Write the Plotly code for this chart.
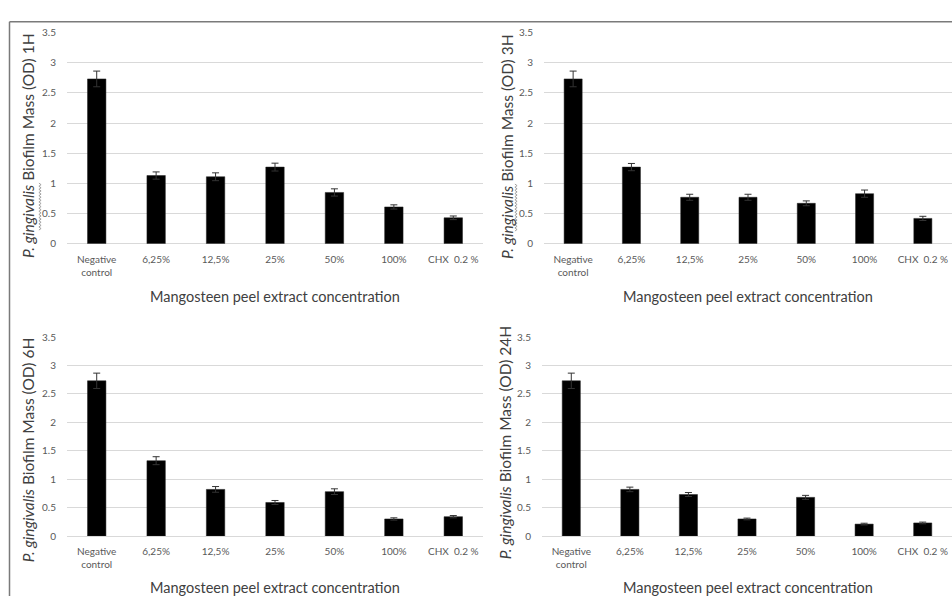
import plotly.graph_objects as go

W, H = 952, 602

categories = ["Negative<br>control", "6,25%", "12,5%", "25%", "50%", "100%", "CHX  0.2 %"]

od_1h = [2.73, 1.13, 1.11, 1.27, 0.85, 0.61, 0.43]
err_1h = [0.13, 0.06, 0.065, 0.065, 0.06, 0.035, 0.03]

od_3h = [2.73, 1.27, 0.77, 0.77, 0.67, 0.83, 0.42]
err_3h = [0.13, 0.06, 0.05, 0.05, 0.04, 0.06, 0.035]

od_6h = [2.73, 1.325, 0.82, 0.59, 0.78, 0.30, 0.34]
err_6h = [0.135, 0.07, 0.05, 0.035, 0.05, 0.02, 0.02]

od_24h = [2.73, 0.82, 0.73, 0.30, 0.68, 0.21, 0.23]
err_24h = [0.135, 0.04, 0.035, 0.015, 0.035, 0.015, 0.015]

y_ticks = [0, 0.5, 1, 1.5, 2, 2.5, 3, 3.5]
y_ticktext = ["0", "0.5", "1", "1.5", "2", "2.5", "3", "3.5"]

hours = ["1H", "3H", "6H", "24H"]
series = [(od_1h, err_1h), (od_3h, err_3h), (od_6h, err_6h), (od_24h, err_24h)]

FONT = "Lato"
TICK_COL = "#595959"
TITLE_COL = "#404040"
GRID_COL = "#d9d9d9"

def px(x):
    return x / W

def py(y):
    return 1 - y / H

# panel geometry (page pixels): x0, x1, y_zero, y_top
panels = [
    (67, 483, 242, 26),
    (544, 952, 242, 26),
    (67, 483, 540.7, 337.3),
    (542, 952, 540.7, 337.3),
]

fig = go.Figure()
layout = dict(
    width=W, height=H,
    margin=dict(l=0, r=0, t=0, b=0),
    paper_bgcolor="white", plot_bgcolor="white",
    showlegend=False,
    font=dict(family=FONT, color=TICK_COL),
)

for i, ((vals, errs), hr, (x0, x1, yz, yt)) in enumerate(zip(series, hours, panels)):
    n = "" if i == 0 else str(i + 1)
    fig.add_trace(go.Bar(
        x=categories, y=vals,
        width=0.31,
        marker=dict(color="black", line=dict(color="#222222", width=0.5)),
        error_y=dict(type="data", array=errs, visible=True,
                     color="#333333", thickness=1, width=3.5),
        xaxis="x" + n, yaxis="y" + n,
        hoverinfo="skip",
    ))
    layout["xaxis" + n] = dict(
        domain=[max(0, px(x0)), min(1, px(x1))], anchor="y" + n,
        type="category", categoryorder="array", categoryarray=categories,
        range=[-0.5, 6.5],
        showgrid=False, zeroline=False, showline=False, ticks="",
        ticklabelstandoff=8,
        tickfont=dict(family=FONT, size=10, color=TICK_COL),
        fixedrange=True,
    )
    layout["yaxis" + n] = dict(
        domain=[py(yz), py(yt)], anchor="x" + n,
        range=[0, 3.5], tickvals=y_ticks, ticktext=y_ticktext,
        showgrid=True, gridcolor=GRID_COL, gridwidth=1,
        zeroline=True, zerolinecolor=GRID_COL, zerolinewidth=1,
        showline=False, ticks="", ticklabelstandoff=10,
        tickfont=dict(family=FONT, size=10, color=TICK_COL),
        fixedrange=True,
    )

fig.update_layout(**layout)

# axis titles as annotations
ytitle_pos = [(28, 142), (507, 143), (28, 453), (505, 446)]
xtitle_pos = [(275, 296), (748, 296), (275, 593), (748, 593)]
annotations = []
for hr, (ax, ay), (bx, by) in zip(hours, ytitle_pos, xtitle_pos):
    annotations.append(dict(
        x=px(ax), y=py(ay), xref="paper", yref="paper",
        text="<i>P. gingivalis</i> Biofilm Mass (OD) " + hr,
        textangle=-90, showarrow=False, xanchor="center", yanchor="middle",
        font=dict(family=FONT, size=15.5, color=TITLE_COL),
    ))
    annotations.append(dict(
        x=px(bx), y=py(by), xref="paper", yref="paper",
        text="Mangosteen peel extract concentration",
        showarrow=False, xanchor="center", yanchor="middle",
        font=dict(family=FONT, size=14.5, color=TITLE_COL),
    ))
fig.update_layout(annotations=annotations)

# spell-check style wavy underline under "gingivalis" in the top panels
def wavy(xc, y0, y1, amp=1.1, step=1.6):
    pts = []
    y = y0
    k = 0
    while y <= y1:
        x = xc + (amp if k % 2 else -amp)
        pts.append((px(x), py(y)))
        y += step
        k += 1
    d = "M " + " L ".join(f"{a:.5f},{b:.5f}" for a, b in pts)
    return dict(type="path", xref="paper", yref="paper", path=d,
                line=dict(color="#8c8c8c", width=0.8))

shapes = [
    dict(type="line", xref="paper", yref="paper",
         x0=px(9.5), x1=1, y0=py(15), y1=py(15),
         line=dict(color="#7a7a7a", width=1.5)),
    dict(type="line", xref="paper", yref="paper",
         x0=px(9.5), x1=px(9.5), y0=0, y1=py(15),
         line=dict(color="#7a7a7a", width=1.5)),
    wavy(40, 180, 228),
    wavy(516, 181, 229),
]
fig.update_layout(shapes=shapes)

fig.write_html(
    "out.html",
    config={"displayModeBar": False},
    post_script="document.body.style.margin='0';document.body.style.overflow='hidden';",
)
